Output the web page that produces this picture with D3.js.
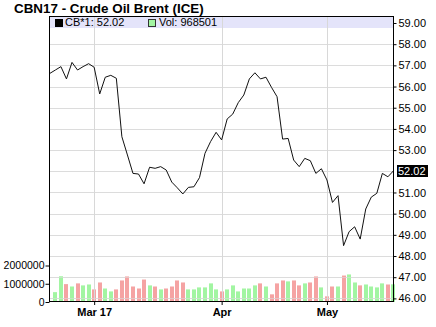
<!DOCTYPE html>
<html>
<head>
<meta charset="utf-8">
<script src="https://cdn.jsdelivr.net/npm/d3@7"></script>
<style>
  body { margin: 0; background: #fff; }
  svg { display: block; font-family: "Liberation Sans", Arial, sans-serif; }
</style>
</head>
<body>
<div id="chart"></div>
<script>
// daily closes, first value is the day before the first volume bar
const closes = [56.62, 56.78, 56.94, 56.36, 57.14, 56.78, 56.94, 57.08, 56.91, 55.65,
  56.44, 56.53, 56.39, 53.63, 52.77, 51.90, 51.87, 51.41, 52.19, 52.14,
  52.22, 52.06, 51.49, 51.22, 50.93, 51.24, 51.27, 51.70, 52.85, 53.40,
  53.84, 53.48, 54.47, 54.70, 55.24, 55.60, 56.36, 56.65, 56.36, 56.44,
  55.96, 55.52, 53.52, 53.55, 52.53, 52.22, 52.61, 52.50, 51.90, 52.12,
  51.59, 50.53, 50.85, 48.49, 49.15, 49.38, 48.80, 50.22, 50.78, 50.96,
  51.90, 51.74, 52.02];

const volumes = [540000, 1410000, 980000, 850000, 1020000, 910000, 960000, 690000, 1070000, 740000,
  580000, 690000, 1180000, 1400000, 850000, 740000, 1230000, 910000, 850000, 690000,
  740000, 850000, 1180000, 1070000, 690000, 690000, 800000, 800000, 1020000, 690000,
  580000, 690000, 910000, 580000, 740000, 740000, 910000, 1020000, 850000, 420000,
  1020000, 1180000, 1130000, 1180000, 910000, 1020000, 1070000, 1400000, 800000, 310000,
  850000, 850000, 1450000, 1510000, 1070000, 910000, 960000, 850000, 800000, 1020000,
  960000, 968501];

const monthTicks = [7, 30, 49];
const monthLabels = ["Mar 17", "Apr", "May"];
const priceTicks = d3.range(46, 60);
const volTicks = [0, 1000000, 2000000];

const title = "CBN17 - Crude Oil Brent (ICE)";
const lastClose = closes[closes.length - 1];
const lastVol = volumes[volumes.length - 1];

const width = 436, height = 327;
const pLeft = 49, pRight = 394, pTop = 16, pBottom = 302;

const svg = d3.select('#chart')
    .append('svg')
    .attr('width', width)
    .attr('height', height);

const x = d3.scaleLinear().domain([-1.15, 61.1]).range([pLeft, pRight]);
const y = d3.scaleLinear().domain([45.83, 59.33]).range([pBottom, pTop]);
const yv = d3.scaleLinear().domain([0, 2000000]).range([pBottom, 265.5]);

svg.append('text')
    .attr('x', 14).attr('y', 13)
    .style('font-size', '13.4px').style('font-weight', 'bold')
    .text(title);

svg.append('defs').append('clipPath').attr('id', 'plot')
    .append('rect').attr('x', pLeft).attr('y', pTop)
    .attr('width', pRight - pLeft).attr('height', pBottom - pTop);

// horizontal grid
svg.append('g').selectAll('line')
    .data(priceTicks.filter(d => d < 59))
    .join('line')
    .attr('x1', pLeft).attr('x2', pRight)
    .attr('y1', d => Math.round(y(d)) + 0.5).attr('y2', d => Math.round(y(d)) + 0.5)
    .style('stroke', '#dcdcdc');

// legend band
svg.append('rect')
    .attr('x', pLeft).attr('y', pTop)
    .attr('width', pRight - pLeft).attr('height', 12)
    .style('fill', '#e4e4fa');

// volume bars, coloured by the close change
svg.append('g').selectAll('rect')
    .data(volumes)
    .join('rect')
    .attr('x', (d, i) => Math.round(x(i)) - 2)
    .attr('y', d => yv(d))
    .attr('width', 4)
    .attr('height', d => pBottom - yv(d))
    .style('fill', (d, i) => closes[i + 1] >= closes[i] ? '#a2f5a2' : '#f5a3a3');

// grid over bars for the lower lines
svg.append('g').selectAll('line')
    .data(priceTicks.filter(d => d < 48))
    .join('line')
    .attr('x1', pLeft).attr('x2', pRight)
    .attr('y1', d => Math.round(y(d)) + 0.5).attr('y2', d => Math.round(y(d)) + 0.5)
    .style('stroke', '#dcdcdc').style('stroke-opacity', 0.6);

// vertical grid
svg.append('g').selectAll('line')
    .data(monthTicks)
    .join('line')
    .attr('x1', d => Math.round(x(d)) + 0.5).attr('x2', d => Math.round(x(d)) + 0.5)
    .attr('y1', pTop).attr('y2', pBottom)
    .style('stroke', '#d8d8d8');

// close line
const line = d3.line()
    .x((d, i) => x(i - 1))
    .y(d => y(d));

svg.append('path')
    .datum(closes)
    .attr('clip-path', 'url(#plot)')
    .attr('d', line)
    .style('fill', 'none')
    .style('stroke', '#111')
    .style('stroke-width', 1);

// frame
svg.append('rect')
    .attr('x', pLeft + 0.5).attr('y', pTop + 0.5)
    .attr('width', pRight - pLeft - 1).attr('height', pBottom - pTop - 1)
    .style('fill', 'none').style('stroke', '#000');

// price axis
const yAxis = svg.append('g')
    .attr('transform', `translate(${pRight - 0.5},0)`)
    .call(d3.axisRight(y).tickValues(priceTicks.filter(d => d !== 52))
        .tickFormat(d3.format('.2f')).tickSize(3).tickPadding(2));
yAxis.select('.domain').remove();
yAxis.selectAll('text').style('font-size', '11px').style('font-family', 'inherit');

// last value marker
const lastY = y(lastClose);
svg.append('rect')
    .attr('x', pRight + 3).attr('y', Math.round(lastY) - 6)
    .attr('width', 31).attr('height', 12)
    .style('fill', '#000');
svg.append('text')
    .attr('x', pRight + 4).attr('y', lastY + 4)
    .style('font-size', '11px').style('fill', '#fff')
    .text(lastClose.toFixed(2));

// volume axis
const vAxis = svg.append('g')
    .attr('transform', `translate(${pLeft + 0.5},0)`)
    .call(d3.axisLeft(yv).tickValues(volTicks).tickFormat(d3.format('d')).tickSize(4).tickPadding(1));
vAxis.select('.domain').remove();
vAxis.selectAll('text').style('font-size', '10.5px').style('font-family', 'inherit');

// date axis
const xAxis = svg.append('g')
    .attr('transform', `translate(0,${pBottom})`)
    .call(d3.axisBottom(x).tickValues(monthTicks)
        .tickFormat((d, i) => monthLabels[i]).tickSize(3).tickPadding(3));
xAxis.select('.domain').remove();
xAxis.selectAll('text').style('font-size', '11px').style('font-weight', 'bold').style('font-family', 'inherit');

// legend
svg.append('rect').attr('x', 55).attr('y', 19).attr('width', 8).attr('height', 8).style('fill', '#000');
svg.append('text').attr('x', 65).attr('y', 26).style('font-size', '11px')
    .text('CB*1: ' + lastClose.toFixed(2));
svg.append('rect').attr('x', 148.5).attr('y', 19.5).attr('width', 7).attr('height', 7)
    .style('fill', '#a2f5a2').style('stroke', '#333');
svg.append('text').attr('x', 159).attr('y', 26).style('font-size', '11px')
    .text('Vol: ' + lastVol);
</script>
</body>
</html>
